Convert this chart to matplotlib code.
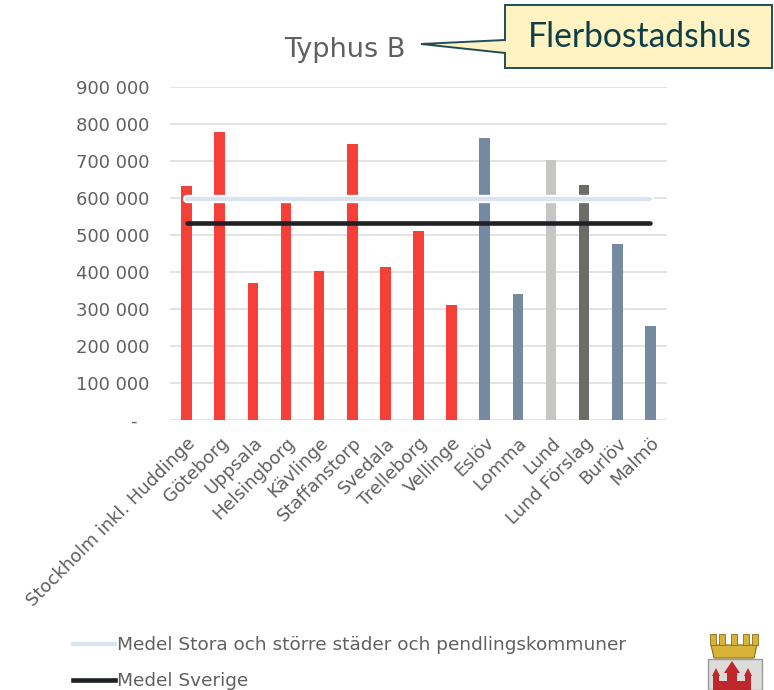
import matplotlib
matplotlib.use("Agg")
import matplotlib.pyplot as plt
import matplotlib.patheffects as pe
from matplotlib.patches import Polygon, Rectangle
from matplotlib.lines import Line2D
import numpy as np

# ---------------- data ----------------
categories = ["Stockholm inkl. Huddinge", "Göteborg", "Uppsala", "Helsingborg",
              "Kävlinge", "Staffanstorp", "Svedala", "Trelleborg", "Vellinge",
              "Eslöv", "Lomma", "Lund", "Lund Förslag", "Burlöv", "Malmö"]
values = [633000, 780000, 370000, 590000, 404000, 746000, 415000, 511000,
          312000, 764000, 340000, 703000, 637000, 475000, 254000]
groups = ["ref"] * 9 + ["region", "region", "lund", "forslag", "region", "region"]
medel_stora = 598000
medel_sverige = 533000
yticks = [0, 100000, 200000, 300000, 400000, 500000, 600000, 700000, 800000, 900000]
ytick_labels = ["-  ", "100 000", "200 000", "300 000", "400 000", "500 000",
                "600 000", "700 000", "800 000", "900 000"]
legend_labels = ["Medel Stora och större städer och pendlingskommuner", "Medel Sverige"]
title = "Typhus B"
callout = "Flerbostadshus"

group_colors = {"ref": "#F5403A", "region": "#7589A0", "lund": "#C6C6C4", "forslag": "#6C6C66"}
GRAY = "#606060"

W, H = 774, 690
fig = plt.figure(figsize=(W / 100, H / 100), dpi=100)
fig.patch.set_facecolor("white")

def fx(x):
    return x / W

def fy(y):
    return 1 - y / H

ax = fig.add_axes([fx(170), fy(420), fx(667) - fx(170), fy(87.3) - fy(420)])
x = np.arange(len(categories))
ax.bar(x, values, width=0.32, color=[group_colors[g] for g in groups], zorder=2)

ax.plot(x, [medel_stora] * len(x), color="#D9E4F0", lw=3.0, zorder=3,
        solid_capstyle="round",
        path_effects=[pe.Stroke(linewidth=6.0, foreground="white"), pe.Normal()])
ax.plot(x, [medel_sverige] * len(x), color="#1E2126", lw=3.3, zorder=4,
        solid_capstyle="round")

ax.set_xlim(-0.5, len(categories) - 0.5)
ax.set_ylim(0, 900000)
ax.set_yticks(yticks)
ax.set_yticklabels(ytick_labels)
ax.set_xticks(x)
ax.set_xticklabels(categories, rotation=45, ha="right", rotation_mode="anchor")
ax.tick_params(axis="both", length=0, colors=GRAY, labelsize=13)
ax.tick_params(axis="y", pad=15)
ax.tick_params(axis="x", pad=10)
ax.grid(axis="y", color="#DEDEDE", lw=1.2, zorder=0)
ax.set_axisbelow(True)
for s in ax.spines.values():
    s.set_visible(False)

# title
fig.text(fx(345), fy(57), title, ha="center", va="baseline", fontsize=19.5, color=GRAY)

# callout box with pointer
poly = Polygon([(fx(505), fy(5)), (fx(772), fy(5)), (fx(772), fy(68)), (fx(505), fy(68)),
                (fx(505), fy(53)), (fx(421), fy(44)), (fx(505), fy(40))],
               closed=True, transform=fig.transFigure, facecolor="#FFF3C4",
               edgecolor="#1F4E5A", lw=1.4, zorder=5)
fig.patches.append(poly)
fig.text(fx(640), fy(47), callout, ha="center", va="baseline", fontsize=24.2,
         family="Lato", color="#0E3F48", zorder=6)

# legend
handles = [Line2D([], [], color="#D9E4F0", lw=3.0),
           Line2D([], [], color="#1E2126", lw=3.3)]
fig.legend(handles, legend_labels, loc="upper left",
           bbox_to_anchor=(fx(73), fy(636)), frameon=False, fontsize=13.3,
           handlelength=2.25, handletextpad=0.12, labelspacing=1.0,
           labelcolor=GRAY, borderaxespad=0, borderpad=0)

# coat of arms (approximate)
def add(p):
    p.set_transform(fig.transFigure)
    fig.patches.append(p)

add(Rectangle((fx(708), fy(690)), fx(762) - fx(708), fy(659) - fy(690),
              facecolor="#DCDCDA", edgecolor="#9A9A9A", lw=1))
# castle
add(Rectangle((fx(713), fy(690)), fx(751) - fx(713), fy(681) - fy(690), facecolor="#C0272D", lw=0))
add(Rectangle((fx(727), fy(690)), fx(737) - fx(727), fy(673) - fy(690), facecolor="#C0272D", lw=0))
add(Polygon([(fx(724), fy(673)), (fx(732), fy(661)), (fx(740), fy(673))], facecolor="#C0272D", lw=0))
add(Rectangle((fx(713), fy(690)), fx(719) - fx(713), fy(676) - fy(690), facecolor="#C0272D", lw=0))
add(Polygon([(fx(712), fy(676)), (fx(716), fy(668)), (fx(720), fy(676))], facecolor="#C0272D", lw=0))
add(Rectangle((fx(745), fy(690)), fx(751) - fx(745), fy(676) - fy(690), facecolor="#C0272D", lw=0))
add(Polygon([(fx(744), fy(676)), (fx(748), fy(668)), (fx(752), fy(676))], facecolor="#C0272D", lw=0))
# crown
add(Polygon([(fx(711), fy(645)), (fx(757), fy(645)), (fx(754), fy(658)), (fx(714), fy(658))],
            facecolor="#D8B33A", edgecolor="#8A6D1A", lw=0.8))
for cx in [713, 722, 734, 746, 755]:
    add(Rectangle((fx(cx - 3), fy(645)), fx(6), fy(634) - fy(645),
                  facecolor="#D8B33A", edgecolor="#8A6D1A", lw=0.6))

fig.savefig("out.png", dpi=100, facecolor="white")
